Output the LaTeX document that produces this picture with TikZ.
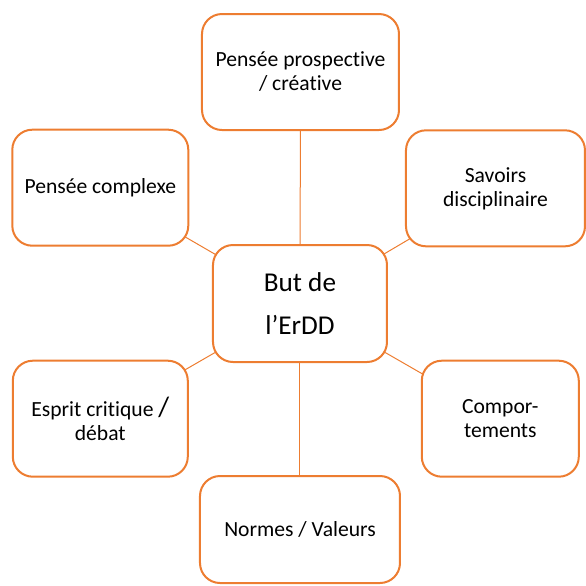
\documentclass[tikz,border=0pt]{standalone}
\usepackage{fontspec}
\setmainfont{Carlito}[Ligatures={NoCommon,NoContextual,NoRequired}]
\usepackage{xcolor}
\usepackage{tikz}
\usetikzlibrary{backgrounds}
\definecolor{Orange}{HTML}{ED7D31}

\begin{document}
\begin{tikzpicture}[x=0.5pt,y=-0.5pt,
  topic/.style={draw=Orange,fill=white,line width=1pt,rounded corners=10pt,align=center,font=\fontsize{10.8}{12}\selectfont},
  goal/.style={topic,font=\fontsize{13.6}{21.5}\selectfont},
  link/.style={draw=Orange,line width=0.5pt}
]
\useasboundingbox (0,0) rectangle (586,586);
\node[goal,minimum width=87pt,minimum height=58.5pt] (ctr) at (300,303.5) {But de\\l’ErDD};
\node[topic,minimum width=98.5pt,minimum height=58pt] (prosp) at (300.5,72) {Pensée prospect\kern0pt ive\\/ créat\kern0pt ive};
\node[topic,minimum width=88pt,minimum height=58pt] (cplx) at (100.3,187.7) {Pensée complexe};
\node[topic,minimum width=89.5pt,minimum height=58pt] (savoirs) at (495.5,188.3) {Savoirs\\disciplinaire};
\node[topic,minimum width=87.5pt,minimum height=58pt] (esprit) at (100.3,418.7) {Esprit crit\kern0pt ique {\fontsize{14}{14}\selectfont /}\\débat};
\node[topic,minimum width=78.5pt,minimum height=58pt] (compor) at (500.3,418.7) {Compor-\\tements};
\node[topic,minimum width=100pt,minimum height=53.5pt] (normes) at (300,529.5) {Normes / Valeurs};
\begin{scope}[on background layer]
\draw[link] (ctr.center)--(prosp.center);
\draw[link] (ctr.center)--(cplx.center);
\draw[link] (ctr.center)--(savoirs.center);
\draw[link] (ctr.center)--(esprit.center);
\draw[link] (ctr.center)--(compor.center);
\draw[link] (ctr.center)--(normes.center);
\end{scope}
\end{tikzpicture}
\end{document}
